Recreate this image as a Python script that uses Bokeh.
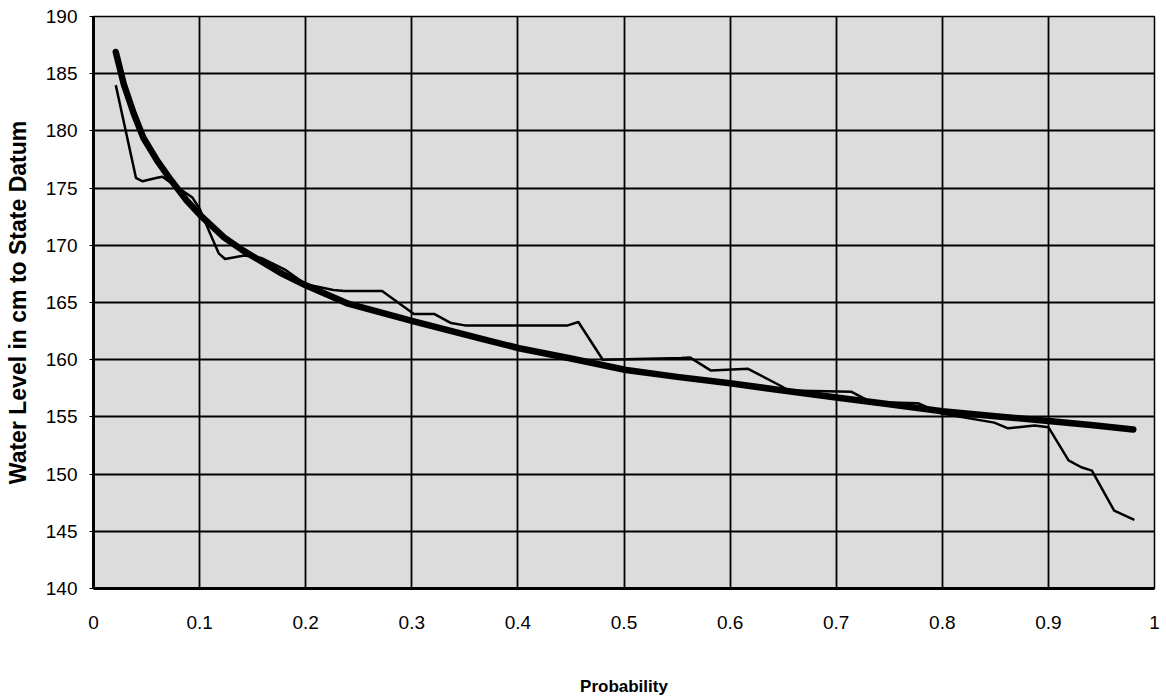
from bokeh.plotting import figure
from bokeh.models import ColumnDataSource, FixedTicker
from bokeh.embed import file_html
from bokeh.resources import INLINE

# observed (empirical) water levels vs probability
prob_obs = [0.021, 0.040, 0.046, 0.060, 0.065, 0.080, 0.093, 0.100, 0.110, 0.118, 0.124,
            0.142, 0.158, 0.180, 0.200, 0.226, 0.236, 0.272, 0.302, 0.321, 0.337, 0.350,
            0.447, 0.457, 0.480, 0.554, 0.562, 0.582, 0.617, 0.648, 0.655, 0.714, 0.733,
            0.777, 0.799, 0.849, 0.862, 0.887, 0.900, 0.919, 0.931, 0.941, 0.962, 0.981]
level_obs = [184.0, 175.9, 175.6, 175.9, 176.0, 175.0, 174.2, 173.2, 171.0, 169.3, 168.8,
             169.1, 168.9, 167.9, 166.6, 166.1, 166.0, 166.0, 164.0, 164.0, 163.2, 163.0,
             163.0, 163.3, 160.0, 160.15, 160.2, 159.05, 159.2, 157.7, 157.3, 157.2, 156.3,
             156.2, 155.3, 154.5, 154.0, 154.25, 154.1, 151.2, 150.6, 150.3, 146.8, 146.0]

# fitted curve
prob_fit = [0.021, 0.0285, 0.038, 0.047, 0.060, 0.073, 0.088, 0.101, 0.123, 0.140, 0.158,
            0.178, 0.200, 0.240, 0.300, 0.365, 0.401, 0.450, 0.502, 0.550, 0.600, 0.650,
            0.700, 0.750, 0.800, 0.850, 0.900, 0.940, 0.980]
level_fit = [186.9, 184.1, 181.5, 179.4, 177.4, 175.7, 173.9, 172.6, 170.7, 169.6, 168.6,
             167.5, 166.5, 164.9, 163.4, 161.85, 161.0, 160.1, 159.1, 158.5, 157.95, 157.3,
             156.7, 156.1, 155.5, 155.05, 154.65, 154.3, 153.9]

x_ticks = [0, 0.1, 0.2, 0.3, 0.4, 0.5, 0.6, 0.7, 0.8, 0.9, 1]
x_tick_labels = ["0", "0.1", "0.2", "0.3", "0.4", "0.5", "0.6", "0.7", "0.8", "0.9", "1"]
y_ticks = [140, 145, 150, 155, 160, 165, 170, 175, 180, 185, 190]

FONT = "Liberation Sans"

p = figure(frame_width=1061, frame_height=572, x_range=(0, 1), y_range=(140, 190),
           output_backend="svg", toolbar_location=None,
           min_border_left=93, min_border_right=12, min_border_top=16, min_border_bottom=108,
           background_fill_color="#dcdcdc", border_fill_color="white")

p.outline_line_color = "black"
p.outline_line_width = 1.5

p.xaxis.ticker = FixedTicker(ticks=x_ticks)
p.yaxis.ticker = FixedTicker(ticks=y_ticks)
p.xaxis.major_label_overrides = {t: l for t, l in zip(x_ticks, x_tick_labels)}

p.xgrid.grid_line_color = "black"
p.ygrid.grid_line_color = "black"
p.xgrid.grid_line_width = 1.8
p.ygrid.grid_line_width = 1.8
p.xgrid.grid_line_alpha = 1.0
p.ygrid.grid_line_alpha = 1.0

for ax in (p.xaxis[0], p.yaxis[0]):
    ax.axis_line_color = "black"
    ax.axis_line_width = 3
    ax.minor_tick_line_color = None
    ax.major_label_text_font = FONT
    ax.major_label_text_font_size = "19px"
    ax.major_label_text_color = "black"
    ax.axis_label_text_font = FONT
    ax.axis_label_text_font_style = "bold"
    ax.axis_label_text_color = "black"

p.xaxis.major_tick_line_color = None
p.xaxis.major_label_standoff = 21
p.yaxis.major_tick_in = 0
p.yaxis.major_tick_out = 4
p.yaxis.major_tick_line_color = "black"
p.yaxis.major_label_standoff = 12

p.xaxis.axis_label = "Probability"
p.xaxis.axis_label_text_font_size = "17px"
p.xaxis.axis_label_standoff = 45
p.yaxis.axis_label = "Water Level in cm to State Datum"
p.yaxis.axis_label_text_font_size = "23px"
p.yaxis.axis_label_standoff = 12

obs = ColumnDataSource(dict(x=prob_obs, y=level_obs))
fit = ColumnDataSource(dict(x=prob_fit, y=level_fit))
p.line("x", "y", source=obs, line_color="black", line_width=2.5, line_join="round")
p.line("x", "y", source=fit, line_color="black", line_width=6.5, line_join="round", line_cap="round")

open("out.html", "w").write(file_html(p, INLINE))
